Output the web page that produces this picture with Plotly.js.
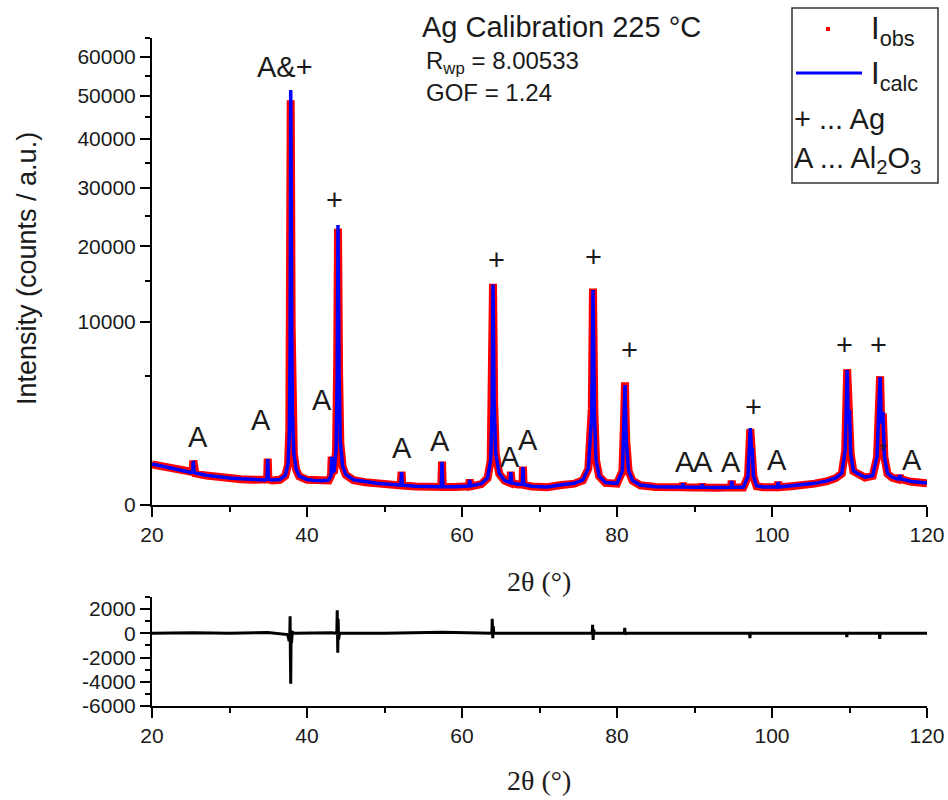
<!DOCTYPE html>
<html>
<head>
<meta charset="utf-8">
<script src="https://cdn.plot.ly/plotly-3.0.1.min.js"></script>
<style>html,body{margin:0;padding:0;background:#fff;}#chart{width:948px;height:800px;}</style>
</head>
<body>
<div id="chart"></div>
<script>
// ---- data ----
const twoTheta = [
  20.0,21.0,22.0,23.0,24.0,25.1,25.25,25.33,25.42,25.6,
  27.0,28.5,30.0,31.5,33.0,34.5,34.85,34.93,35.02,35.5,
  36.5,37.2,37.55,37.72,37.82,37.9,37.96,38.02,38.12,38.3,
  38.6,39.0,40.0,41.0,42.0,42.8,43.1,43.18,43.26,43.5,
  43.75,43.9,44.0,44.06,44.14,44.3,44.6,45.0,46.0,47.5,
  49.0,51.0,52.1,52.2,52.3,54.0,56.0,57.32,57.42,57.52,
  59.0,60.9,61.0,61.1,62.5,63.3,63.7,63.9,64.0,64.07,
  64.15,64.35,64.8,65.5,66.2,66.3,66.4,67.2,67.8,67.87,
  67.95,69.0,71.0,72.6,74.5,75.6,76.3,76.75,76.9,76.98,
  77.08,77.3,77.7,78.5,80.0,80.7,80.9,81.03,81.1,81.2,
  81.5,82.0,83.0,85.0,86.5,88.4,88.5,88.6,90.0,90.9,
  91.0,91.1,93.0,94.7,94.8,94.9,96.3,96.9,97.2,97.35,
  97.45,97.6,98.0,98.8,100.7,100.8,100.9,102.5,104.0,105.5,
  107.0,108.2,109.0,109.45,109.7,109.85,110.0,110.15,110.5,111.0,
  112.0,113.0,113.55,113.95,114.1,114.3,114.5,114.9,115.5,116.3,
  116.5,116.7,118.0,120.0
];
const intensityCalc = [
  500,460,420,380,345,315,330,580,330,305,
  265,235,218,205,195,188,200,630,200,186,
  195,260,500,1500,8000,51400,30000,9000,2500,800,
  380,250,195,180,175,185,260,690,320,350,
  900,5000,23400,14000,5000,1200,450,280,190,160,
  140,125,118,325,118,105,100,100,555,100,
  100,108,190,108,135,220,600,3000,14500,9000,
  3000,800,300,180,150,325,150,130,130,430,
  125,105,97,120,140,187,400,2500,13800,8000,
  2500,600,250,150,140,350,1800,4300,2500,1200,
  350,180,120,100,97,97,140,97,95,95,
  130,95,92,95,172,95,95,250,1770,900,
  970,250,110,97,97,158,97,110,119,140,
  170,220,300,900,5440,2000,2690,800,350,300,
  230,260,700,4890,2000,2580,700,300,230,200,
  260,200,165,145
];
const intensityObs = [
  490,450,410,372,338,308,325,590,320,298,
  258,228,212,199,190,183,195,640,195,181,
  190,255,480,1700,9300,48900,27000,9500,2400,780,
  370,245,190,176,170,180,255,700,315,345,
  880,6500,22800,13000,5200,1150,440,272,185,155,
  136,121,114,330,114,102,97,97,560,97,
  97,104,195,104,131,214,590,3600,14600,8800,
  3100,780,292,175,146,330,146,126,126,440,
  121,102,94,117,136,182,390,2800,14000,7800,
  2500,590,244,146,136,345,2000,4500,2500,1180,
  340,175,116,97,94,94,145,94,92,92,
  135,92,89,92,178,92,92,240,1720,880,
  950,245,106,94,94,162,94,106,115,136,
  165,214,292,880,5500,1950,2650,780,340,292,
  224,252,680,4950,1950,2500,690,292,224,195,
  255,195,160,140
];
const diffTwoTheta = [
  20,25.33,30,34.93,37.5,37.7,37.78,37.82,37.86,37.9,
  37.95,38.0,38.1,38.4,43.18,43.85,43.9,43.97,44.02,44.07,
  44.2,50,57.42,63.85,63.9,63.97,64.03,64.1,70,76.8,
  76.85,76.92,76.98,77.1,80.95,81.0,81.06,81.15,90,97.1,
  97.15,97.22,97.3,105,109.6,109.65,109.72,109.8,113.85,113.9,
  113.97,114.05,120
];
const diffIntensity = [
  0,50,0,60,-100,-650,0,1400,-2000,-4170,
  200,-800,100,0,50,0,1900,-1600,1200,-500,
  0,0,80,0,1200,-400,600,0,0,0,
  700,-550,300,0,0,450,-100,0,0,0,
  -400,100,0,0,0,-300,100,0,0,-450,
  80,0,0
];
const xTickVals = [20,40,60,80,100,120];
const xMinorVals = [30,50,70,90,110];
const mainTickVals = [0,10000,20000,30000,40000,50000,60000];
const mainTickText = ["0","10000","20000","30000","40000","50000","60000"];
const mainMinorVals = [5000,15000,25000,35000,45000,55000,65000];
const diffTickVals = [2000,0,-2000,-4000,-6000];
const diffTickText = ["2000","0","-2000","-4000","-6000"];
const diffMinorVals = [3000,1000,-1000,-3000,-5000];
const peakLabels = ["A","A","A&+","A","+","A","A","+","A","A","+","+","A","A","A","+","A","+","+","*","A"];

// ---- helpers ----
const W = 948, H = 800;
const PX = p => p / W;
const PY = p => 1 - p / H;
const sq = v => Math.sqrt(v);
const SANS = "Liberation Sans, Arial, sans-serif";
const SERIF = "Liberation Serif, Times New Roman, serif";
const TXT = "#1a1a1a";

// label anchor positions (degrees, sqrt-intensity units)
const labelPos = [
  [25.94,37.2],[34.06,46.4],[37.16,239.3],[41.94,57.4],[43.61,166.7],
  [52.26,31.1],[57.16,35.0],[64.39,133.9],[66.19,26.2],[68.52,35.5],
  [77.03,135.5],[81.55,84.7],[88.77,23.5],[91.10,23.5],[94.71,23.5],
  [97.55,53.6],[100.65,24.6],[109.29,87.4],[113.68,87.4],[114.32,30.1],[118.06,24.6]
];

const traces = [
  {x: twoTheta, y: intensityObs.map(sq), type: "scatter", mode: "lines",
   line: {color: "#ff0000", width: 8}, xaxis: "x", yaxis: "y", showlegend: false, hoverinfo: "skip"},
  {x: twoTheta, y: intensityCalc.map(sq), type: "scatter", mode: "lines",
   line: {color: "#0000ff", width: 3.5}, xaxis: "x", yaxis: "y", showlegend: false, hoverinfo: "skip"},
  {x: diffTwoTheta, y: diffIntensity, type: "scatter", mode: "lines",
   line: {color: "#000000", width: 3}, xaxis: "x2", yaxis: "y2", showlegend: false, hoverinfo: "skip"}
];

const axisCommon = {
  showline: true, linewidth: 2, linecolor: "#000", showgrid: false, zeroline: false,
  ticks: "outside", ticklen: 10, tickwidth: 2, tickcolor: "#000",
  tickfont: {family: SANS, size: 21, color: TXT}
};
const minorCommon = {ticks: "outside", ticklen: 5, tickwidth: 2, tickcolor: "#000", showgrid: false};

const annotations = [];
function ann(text, x, y, opts) {
  annotations.push(Object.assign({text: text, x: x, y: y, xref: "paper", yref: "paper",
    showarrow: false, xanchor: "left", yanchor: "middle",
    font: {family: SANS, size: 24, color: TXT}}, opts || {}));
}
ann("Ag Calibration 225 °C", PX(420), PY(27), {font: {family: SANS, size: 29, color: TXT}});
ann("R<sub>wp</sub> = 8.00533", PX(424), PY(62), {font: {family: SANS, size: 24, color: TXT}});
ann("GOF = 1.24", PX(424), PY(93), {font: {family: SANS, size: 24, color: TXT}});
ann("I<sub>obs</sub>", PX(869), PY(31), {font: {family: SANS, size: 31, color: TXT}});
ann("I<sub>calc</sub>", PX(869), PY(76), {font: {family: SANS, size: 31, color: TXT}});
ann("+ ... Ag", PX(792), PY(119), {font: {family: SANS, size: 29, color: TXT}});
ann("A ... Al<sub>2</sub>O<sub>3</sub>", PX(792), PY(160), {font: {family: SANS, size: 29, color: TXT}});
ann("Intensity (counts / a.u.)", PX(27), PY(269), {xanchor: "center", textangle: -90,
  font: {family: SANS, size: 27, color: TXT}});
ann("2θ (°)", PX(539), PY(581), {xanchor: "center", font: {family: SERIF, size: 28, color: TXT}});
ann("2θ (°)", PX(539), PY(780), {xanchor: "center", font: {family: SERIF, size: 28, color: TXT}});

peakLabels.forEach((t, i) => {
  annotations.push({text: t, x: labelPos[i][0], y: labelPos[i][1], xref: "x", yref: "y",
    showarrow: false, xanchor: "center", yanchor: "middle",
    font: {family: SANS, size: t === "*" ? 20 : 29, color: TXT}});
});

const shapes = [
  {type: "rect", xref: "paper", yref: "paper", x0: PX(792), x1: PX(938), y0: PY(8), y1: PY(183),
   line: {color: "#333", width: 1.5}, fillcolor: "rgba(0,0,0,0)"},
  {type: "rect", xref: "paper", yref: "paper", x0: PX(826), x1: PX(830), y0: PY(31), y1: PY(27),
   line: {width: 0}, fillcolor: "#ff0000"},
  {type: "line", xref: "paper", yref: "paper", x0: PX(796), x1: PX(862), y0: PY(73), y1: PY(73),
   line: {color: "#0000ff", width: 3}}
];

const layout = {
  width: W, height: H,
  margin: {l: 0, r: 0, t: 0, b: 0},
  paper_bgcolor: "#fff", plot_bgcolor: "#fff",
  showlegend: false,
  xaxis: Object.assign({}, axisCommon, {domain: [PX(152), PX(927)], anchor: "y", range: [20, 120],
    tickmode: "array", tickvals: xTickVals,
    minor: Object.assign({}, minorCommon, {tickmode: "array", tickvals: xMinorVals})}),
  yaxis: Object.assign({}, axisCommon, {domain: [PY(505), PY(38.4)], anchor: "x", range: [0, Math.sqrt(65000)],
    tickmode: "array", tickvals: mainTickVals.map(sq), ticktext: mainTickText,
    minor: Object.assign({}, minorCommon, {tickmode: "array", tickvals: mainMinorVals.map(sq)})}),
  xaxis2: Object.assign({}, axisCommon, {domain: [PX(152), PX(927)], anchor: "y2", range: [20, 120],
    tickmode: "array", tickvals: xTickVals,
    minor: Object.assign({}, minorCommon, {tickmode: "array", tickvals: xMinorVals})}),
  yaxis2: Object.assign({}, axisCommon, {domain: [PY(706), PY(597)], anchor: "x2", range: [-6000, 3000],
    tickmode: "array", tickvals: diffTickVals, ticktext: diffTickText,
    minor: Object.assign({}, minorCommon, {tickmode: "array", tickvals: diffMinorVals})}),
  annotations: annotations,
  shapes: shapes
};

Plotly.newPlot("chart", traces, layout, {staticPlot: true, displayModeBar: false});
</script>
</body>
</html>
